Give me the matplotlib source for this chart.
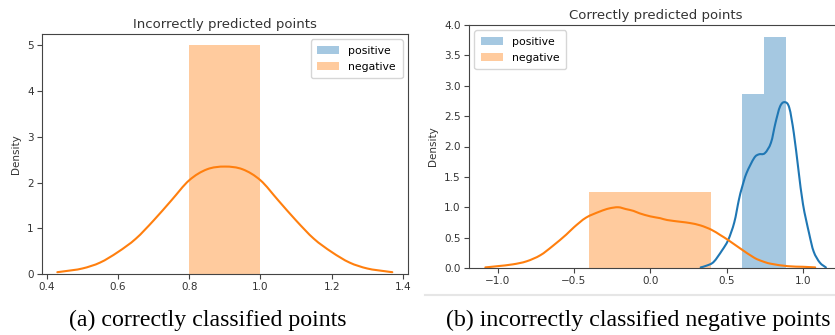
import matplotlib
matplotlib.use("Agg")
import matplotlib.pyplot as plt
import numpy as np
from matplotlib.patches import Patch, PathPatch
from matplotlib.path import Path
from matplotlib.lines import Line2D

# ---------------- data ----------------
labels = ["positive", "negative"]

# panel (a): incorrectly predicted points
a_neg_edges = [0.8, 1.0]
a_neg_heights = [5.0]
a_kde_x = [0.43, 0.45, 0.50, 0.55, 0.60, 0.65, 0.70, 0.75, 0.80, 0.85,
           0.90, 0.95, 1.00, 1.05, 1.10, 1.15, 1.20, 1.25, 1.30, 1.35, 1.37]
a_kde_y = [0.04, 0.06, 0.12, 0.25, 0.48, 0.77, 1.17, 1.61, 2.05, 2.29,
           2.35, 2.29, 2.05, 1.61, 1.17, 0.77, 0.48, 0.25, 0.12, 0.06, 0.04]

# panel (b): correctly predicted points
b_pos_edges = [0.60, 0.745, 0.889]
b_pos_heights = [2.87, 3.81]
b_neg_edges = [-0.40, 0.40]
b_neg_heights = [1.25]
b_pos_kde_x = [0.33, 0.37, 0.415, 0.47, 0.51, 0.55, 0.58, 0.60, 0.63, 0.68, 0.71, 0.75,
               0.79, 0.82, 0.85, 0.88, 0.91, 0.94, 0.97, 1.00, 1.04, 1.07, 1.11, 1.15]
b_pos_kde_y = [0.01, 0.04, 0.10, 0.29, 0.46, 0.75, 1.12, 1.32, 1.56, 1.81, 1.87, 1.89,
               2.06, 2.39, 2.66, 2.73, 2.64, 2.22, 1.62, 1.05, 0.57, 0.27, 0.09, 0.01]
b_neg_kde_x = [-1.08, -1.0, -0.9, -0.81, -0.72, -0.64, -0.55, -0.5, -0.42, -0.33, -0.27,
               -0.21, -0.16, -0.11, -0.07, 0.0, 0.065, 0.11, 0.2, 0.26, 0.33, 0.4, 0.46,
               0.51, 0.59, 0.68, 0.735, 0.79, 0.9, 1.0, 1.08]
b_neg_kde_y = [0.01, 0.03, 0.06, 0.11, 0.21, 0.36, 0.55, 0.67, 0.83, 0.93, 0.98,
               1.0, 0.97, 0.94, 0.90, 0.85, 0.82, 0.79, 0.76, 0.74, 0.70, 0.63, 0.54,
               0.46, 0.32, 0.17, 0.11, 0.07, 0.03, 0.02, 0.01]

a_xticks = [0.4, 0.6, 0.8, 1.0, 1.2, 1.4]
a_yticks = [0, 1, 2, 3, 4, 5]
b_xticks = [-1.0, -0.5, 0.0, 0.5, 1.0]
b_yticks = [0.0, 0.5, 1.0, 1.5, 2.0, 2.5, 3.0, 3.5, 4.0]

titles = ["Incorrectly predicted points", "Correctly predicted points"]
captions = ["(a) correctly classified points", "(b) incorrectly classified negative points"]

# ---------------- style ----------------
BLUE = "#1f77b4"
ORANGE = "#ff7f0e"
TXT = "#333333"
W, H = 835, 335
plt.rcParams["font.family"] = ["DejaVu Sans"]
plt.rcParams["axes.edgecolor"] = "#444444"
plt.rcParams["xtick.color"] = "#444444"
plt.rcParams["ytick.color"] = "#444444"
plt.rcParams["xtick.labelcolor"] = TXT
plt.rcParams["ytick.labelcolor"] = TXT

fig = plt.figure(figsize=(W / 100, H / 100), dpi=100)

def px_axes(l, t, r, b):
    return fig.add_axes([l / W, 1 - b / H, (r - l) / W, (b - t) / H])

def bars(ax, edges, heights, color):
    edges = np.asarray(edges)
    ax.bar(edges[:-1], heights, width=np.diff(edges), align="edge",
           color=color, alpha=0.4, linewidth=0)

def smooth_line(ax, xs, ys, color, lw=1.5):
    # draw a smooth curve passing through the read points (Catmull-Rom as Bezier)
    p = np.column_stack([xs, ys]).astype(float)
    ext = np.vstack([p[0], p, p[-1]])
    verts = [tuple(p[0])]
    codes = [Path.MOVETO]
    for i in range(1, len(ext) - 2):
        p0, p1, p2, p3 = ext[i - 1], ext[i], ext[i + 1], ext[i + 2]
        c1 = p1 + (p2 - p0) / 6.0
        c2 = p2 - (p3 - p1) / 6.0
        verts += [tuple(c1), tuple(c2), tuple(p2)]
        codes += [Path.CURVE4] * 3
    ax.add_patch(PathPatch(Path(verts, codes), fill=False, edgecolor=color,
                           lw=lw, capstyle="round", joinstyle="round"))

def style(ax, xticks, yticks, fmt):
    ax.set_xticks(xticks)
    ax.set_yticks(yticks)
    ax.set_xticklabels([fmt.format(v).replace("-", "\u2212") for v in xticks])
    ax.tick_params(labelsize=7.5, length=3.5, width=0.8, pad=2.5)
    for s in ax.spines.values():
        s.set_linewidth(0.8)
    ax.set_ylabel("Density", fontsize=7.5, color=TXT, labelpad=4)

handles = [Patch(facecolor=BLUE, alpha=0.4, edgecolor="none"),
           Patch(facecolor=ORANGE, alpha=0.4, edgecolor="none")]
leg_kw = dict(fontsize=7.8, handlelength=2.0, borderpad=0.6, labelspacing=0.55,
              handletextpad=0.9, framealpha=0.8)

# panel (a)
ax1 = px_axes(42, 34, 408, 274)
bars(ax1, a_neg_edges, a_neg_heights, ORANGE)
smooth_line(ax1, a_kde_x, a_kde_y, ORANGE)
ax1.set_xlim(0.387, 1.414)
ax1.set_ylim(0, 5.25)
style(ax1, a_xticks, a_yticks, "{:.1f}")
ax1.set_yticklabels([str(v) for v in a_yticks])
ax1.set_title(titles[0], fontsize=9.5, color=TXT, pad=4)
ax1.legend(handles, labels, loc="upper right", **leg_kw)

# panel (b)
ax2 = px_axes(469, 25, 843, 268)
bars(ax2, b_pos_edges, b_pos_heights, BLUE)
bars(ax2, b_neg_edges, b_neg_heights, ORANGE)
smooth_line(ax2, b_pos_kde_x, b_pos_kde_y, BLUE)
smooth_line(ax2, b_neg_kde_x, b_neg_kde_y, ORANGE)
ax2.set_xlim(-1.187, 1.262)
ax2.set_ylim(0, 4.0)
style(ax2, b_xticks, b_yticks, "{:.1f}")
ax2.set_yticklabels(["{:.1f}".format(v) for v in b_yticks])
ax2.set_title(titles[1], fontsize=9.5, color=TXT, pad=4)
ax2.legend(handles, labels, loc="upper left", **leg_kw)

# light separator line under right panel
fig.add_artist(Line2D([425 / W, 1.0], [1 - 295 / H, 1 - 295 / H],
                      color="#e6e6e6", lw=1.5, transform=fig.transFigure))

# captions
serif = ["Liberation Serif", "DejaVu Serif"]
fig.text(208 / W, 1 - 320 / H, captions[0], ha="center", va="center",
         fontsize=17.2, family=serif, color="black")
fig.text(638 / W, 1 - 320 / H, captions[1], ha="center", va="center",
         fontsize=17.2, family=serif, color="black")

fig.savefig("out.png", dpi=100)
